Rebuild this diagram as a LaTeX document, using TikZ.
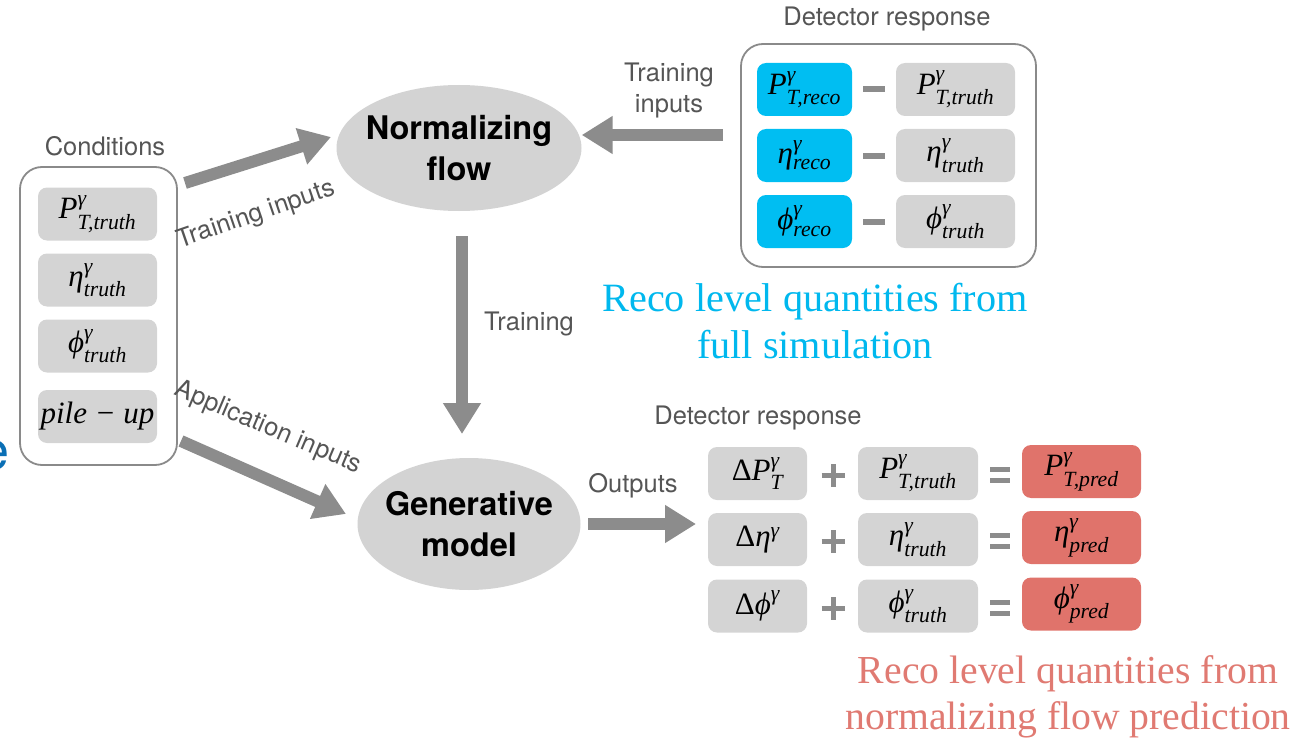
\documentclass[tikz,border=0pt]{standalone}
\usepackage{amsmath}
\usepackage{fontspec}
\setsansfont{TeX Gyre Heros}
\newfontfamily\tms{Liberation Serif}
\usetikzlibrary{arrows.meta,shapes.geometric}
\definecolor{boxgray}{HTML}{D4D4D4}
\definecolor{ellgray}{HTML}{D3D3D3}
\definecolor{arrgray}{HTML}{8C8C8C}
\definecolor{framegray}{HTML}{8A8A8A}
\definecolor{labgray}{HTML}{555555}
\definecolor{recoblue}{HTML}{00BEF2}
\definecolor{predred}{HTML}{E0736B}
\definecolor{txtblue}{HTML}{00B8EE}
\definecolor{txtred}{HTML}{E07A72}
\definecolor{edgeblue}{HTML}{0A6FB5}
\newcommand{\qv}[3]{\ensuremath{\text{\tms\itshape #1}^{\text{\tms\itshape #2}}_{\text{\tms\itshape #3}}}}
\tikzset{
  qbox/.style={rounded corners=9pt, minimum width=#1, minimum height=53pt, inner sep=0pt,
    font=\fontsize{31}{33}\selectfont},
  gbox/.style={qbox=#1, fill=boxgray},
  bbox/.style={qbox=#1, fill=recoblue},
  rbox/.style={qbox=#1, fill=predred},
  frame/.style={draw=framegray, line width=1.8pt, rounded corners=22pt},
  lab/.style={text=labgray, font=\sffamily\fontsize{25.5}{30}\selectfont, align=center},
  ell/.style={ellipse, fill=ellgray, inner sep=0pt},
  elltxt/.style={font=\sffamily\bfseries\fontsize{32.5}{41}\selectfont, align=center},
  bigarrow/.style={draw=arrgray, line width=12pt, -{Triangle[length=31pt,width=36pt]}, color=arrgray},
  bigtxt/.style={font=\tms\fontsize{40.2}{47}\selectfont, align=center}
}
\begin{document}
\begin{tikzpicture}[x=1pt,y=-1pt]
\useasboundingbox (0,0) rectangle (1298,741);
% cut-off letter at left edge
\node[text=edgeblue, font=\sffamily\fontsize{54}{54}\selectfont, inner sep=0pt, anchor=center] (edge) at (-5,455) {e};
% Conditions
\node[lab] (condlab) at (105,146) {Conditions};
\draw[frame] (20,167) rectangle (177,465);
\node[gbox=119pt] (c1) at (97.5,214) {\qv{P}{γ}{T,truth}};
\node[gbox=119pt] (c2) at (97.5,280) {\qv{η}{γ}{truth}};
\node[gbox=119pt] (c3) at (97.5,346) {\qv{ϕ}{γ}{truth}};
\node[gbox=119pt] (c4) at (97.5,416.5) {\text{\tms\itshape pile − up}};
% Ellipses
\node[ell, minimum width=245pt, minimum height=126pt] (nf) at (459,148) {};
\node[elltxt] (nft) at (nf.center) {Normalizing\\flow};
\node[ell, minimum width=223pt, minimum height=132pt] (gm) at (469,524) {};
\node[elltxt] (gmt) at (gm.center) {Generative\\model};
% Top detector response
\node[lab] (toplab) at (887,19) {Detector response};
\draw[frame] (741,44) rectangle (1036,267);
\node[bbox=95pt] (r1) at (804.5,89.5) {\qv{P}{γ}{T,reco}};
\node[bbox=95pt] (r2) at (804.5,155.5) {\qv{η}{γ}{reco}};
\node[bbox=95pt] (r3) at (804.5,221.5) {\qv{ϕ}{γ}{reco}};
\node[gbox=119pt] (t1) at (955.5,89.5) {\qv{P}{γ}{T,truth}};
\node[gbox=119pt] (t2) at (955.5,155.5) {\qv{η}{γ}{truth}};
\node[gbox=119pt] (t3) at (955.5,221.5) {\qv{ϕ}{γ}{truth}};
\foreach \y/\n in {89.5/m1,155.5/m2,221.5/m3}{
  \coordinate (\n) at (874,\y);
  \draw[arrgray, line width=6pt] ([xshift=-11pt]\n) -- ([xshift=11pt]\n);
}
\node[bigtxt, text=txtblue] (bluetxt) at (815,321) {Reco level quantities from\\full simulation};
% Bottom detector response
\node[lab] (botlab) at (758,418) {Detector response};
\node[gbox=99pt] (d1) at (757.5,473.5) {\text{\tms Δ}\qv{P}{γ}{T}};
\node[gbox=99pt] (d2) at (757.5,539.5) {\text{\tms Δ}\ensuremath{\text{\tms\itshape η}^{\text{\tms\itshape γ}}}};
\node[gbox=99pt] (d3) at (757.5,606) {\text{\tms Δ}\ensuremath{\text{\tms\itshape ϕ}^{\text{\tms\itshape γ}}}};
\node[gbox=120pt] (u1) at (918,473.5) {\qv{P}{γ}{T,truth}};
\node[gbox=120pt] (u2) at (918,539.5) {\qv{η}{γ}{truth}};
\node[gbox=120pt] (u3) at (918,606) {\qv{ϕ}{γ}{truth}};
\node[rbox=119pt] (p1) at (1081.5,471.5) {\qv{P}{γ}{T,pred}};
\node[rbox=119pt] (p2) at (1081.5,537.5) {\qv{η}{γ}{pred}};
\node[rbox=119pt] (p3) at (1081.5,604) {\qv{ϕ}{γ}{pred}};
\foreach \y/\n in {475/1,541/2,608/3}{
  \coordinate (pl\n) at (833,\y);
  \draw[arrgray, line width=5pt] ([xshift=-11.5pt]pl\n) -- ([xshift=11.5pt]pl\n);
  \draw[arrgray, line width=5pt] ([yshift=-11.5pt]pl\n) -- ([yshift=11.5pt]pl\n);
  \coordinate (eq\n) at (1000,\y);
  \draw[arrgray, line width=5pt] ([shift={(-10pt,-5.5pt)}]eq\n) -- ([shift={(10pt,-5.5pt)}]eq\n);
  \draw[arrgray, line width=5pt] ([shift={(-10pt,5.5pt)}]eq\n) -- ([shift={(10pt,5.5pt)}]eq\n);
}
\node[bigtxt, text=txtred, font=\tms\fontsize{39.7}{46}\selectfont] (redtxt) at (1068,697) {Reco level quantities from\\normalizing flow prediction};
% Arrows
\coordinate (a1s) at (185,183);
\coordinate (a1e) at (331,137);
\draw[bigarrow] (a1s) -- (a1e);
\node[lab, rotate=19] (a1l) at (256,215) {Training inputs};
\coordinate (a2s) at (181,441);
\coordinate (a2e) at (346,514);
\draw[bigarrow] (a2s) -- (a2e);
\node[lab, rotate=-23] (a2l) at (268,428) {Application inputs};
\coordinate (a3s) at (723,135);
\draw[bigarrow] (a3s) -- (nf.east |- a3s);
\node[lab, font=\sffamily\fontsize{25.5}{31}\selectfont] (a3l) at (669,90) {Training\\inputs};
\coordinate (a4s) at (462,236);
\draw[bigarrow] (a4s) -- (462,434);
\node[lab] (a4l) at (529,324) {Training};
\coordinate (a5s) at (588,524);
\coordinate (a5e) at (696,524);
\draw[bigarrow] (a5s) -- (a5e);
\node[lab] (a5l) at (633,486) {Outputs};
\end{tikzpicture}
\end{document}
